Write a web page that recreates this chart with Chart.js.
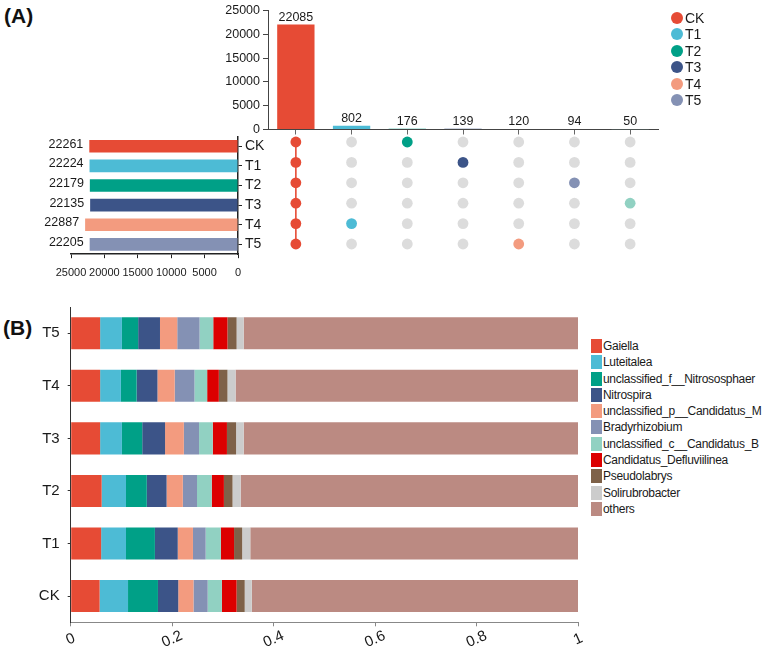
<!DOCTYPE html>
<html>
<head>
<meta charset="utf-8">
<script src="https://cdn.jsdelivr.net/npm/chart.js@4.4.1/dist/chart.umd.min.js"></script>
<style>
  body{margin:0;background:#fff;width:767px;height:651px;position:relative;overflow:hidden;font-family:"Liberation Sans",Arial,sans-serif;color:#1a1a1a;}
  canvas{position:absolute;}
  .tag{position:absolute;font-weight:bold;font-size:21px;color:#111;}
  .legA,.legB{position:absolute;}
  .legA{font-size:14px;line-height:16.4px;}
  .legA div{position:relative;height:16.4px;white-space:nowrap;}
  .legA i{position:absolute;left:-14px;top:2px;width:12px;height:12px;border-radius:50%;}
  .legB{font-size:12px;line-height:16.3px;letter-spacing:-0.3px;}
  .legB div{position:relative;height:16.3px;white-space:nowrap;}
  .legB i{position:absolute;left:-12px;top:1px;width:11px;height:14px;}
</style>
</head>
<body>
<div class="tag" style="left:4px;top:4px">(A)</div>
<div class="tag" style="left:3px;top:316px">(B)</div>
<canvas id="cTop" width="480" height="140" style="left:200px;top:0px"></canvas>
<canvas id="cLeft" width="280" height="155" style="left:0px;top:125px"></canvas>
<canvas id="cDots" width="410" height="135" style="left:260px;top:125px"></canvas>
<canvas id="cStack" width="590" height="361" style="left:0px;top:290px"></canvas>
<div class="legA" id="legA" style="left:685px;top:10px"></div>
<div class="legB" id="legB" style="left:603px;top:338px"></div>
<script>
// ---- (A) upset data ----
const setNames  = ['CK','T1','T2','T3','T4','T5'];
const setSizes  = [22261,22224,22179,22135,22887,22205];
const setColors = ['#E64B35','#4DBBD5','#00A087','#3C5488','#F39B7F','#8491B4'];
const interSizes   = [22085,802,176,139,120,94,50];
const interMembers = [[0,1,2,3,4,5],[4],[0],[1],[5],[2],[3]]; // row index in setNames
const interColors  = ['#E64B35','#4DBBD5','#00A087','#3C5488','#F39B7F','#8491B4','#91D1C2'];

// ---- (B) relative abundance, rows top->bottom ----
const samples = ['T5','T4','T3','T2','T1','CK'];
const genera  = ['Gaiella','Luteitalea','unclassified_f__Nitrososphaer','Nitrospira','unclassified_p__Candidatus_M',
                 'Bradyrhizobium','unclassified_c__Candidatus_B','Candidatus_Defluviilinea','Pseudolabrys','Solirubrobacter','others'];
const genusColors = ['#E64B35','#4DBBD5','#00A087','#3C5488','#F39B7F','#8491B4','#91D1C2','#DC0000','#7E6148','#CCCCCC','#BB8A82'];
const gaiella        = [0.058,0.058,0.058,0.061,0.060,0.057];
const luteitalea     = [0.043,0.041,0.043,0.048,0.049,0.056];
const nitrososphaer  = [0.032,0.031,0.040,0.041,0.057,0.059];
const nitrospira     = [0.043,0.041,0.045,0.039,0.045,0.040];
const candidatusM    = [0.034,0.034,0.037,0.032,0.030,0.030];
const bradyrhizobium = [0.044,0.039,0.030,0.028,0.025,0.028];
const candidatusB    = [0.027,0.025,0.027,0.029,0.030,0.028];
const defluviilinea  = [0.028,0.023,0.028,0.024,0.026,0.029];
const pseudolabrys   = [0.018,0.017,0.018,0.017,0.016,0.016];
const solirubrobacter= [0.014,0.016,0.015,0.016,0.016,0.014];
const others         = [0.659,0.675,0.659,0.665,0.646,0.643];
const bTickLabels = ['0','0.2','0.4','0.6','0.8','1'];

const FONT = '"Liberation Sans", Arial, sans-serif';
const INK = '#1a1a1a', AXIS = '#444';
const plain = v => String(v);   // no thousands separators

// value labels next to bars
const barValues = {
  id:'barValues',
  afterDatasetsDraw(chart, args, opts){
    const ctx = chart.ctx, meta = chart.getDatasetMeta(0), vals = chart.data.datasets[0].data;
    ctx.save();
    ctx.font = '12.5px ' + FONT; ctx.fillStyle = INK;
    meta.data.forEach((bar,i)=>{
      if (opts.side === 'left'){ ctx.textAlign='right'; ctx.textBaseline='middle'; ctx.fillText(String(vals[i]), bar.x-6, bar.y-2); }
      else { ctx.textAlign='center'; ctx.textBaseline='bottom'; ctx.fillText(String(vals[i]), bar.x, bar.y-1); }
    });
    ctx.restore();
  }
};

// top: intersection sizes
new Chart(document.getElementById('cTop'), {
  type:'bar',
  data:{ labels: interSizes.map((_,i)=>'I'+(i+1)),
    datasets:[{ data: interSizes, backgroundColor: interColors, barPercentage:0.67, categoryPercentage:1 }] },
  options:{ responsive:false, animation:false,
    layout:{ padding:{ left:0, right:22, top:9, bottom:0 } },
    plugins:{ legend:{display:false}, tooltip:{enabled:false}, barValues:{side:'top'} },
    scales:{
      x:{ ticks:{display:false}, grid:{drawOnChartArea:false, offset:false, tickLength:5, color:'#666'}, border:{color:AXIS},
          afterFit(s){ s.height = 8; } },
      y:{ min:0, max:25000, ticks:{stepSize:5000, callback:plain, font:{size:12.5, family:FONT}, color:INK, padding:3},
          grid:{drawOnChartArea:false, tickLength:5, color:AXIS}, border:{color:AXIS},
          afterFit(s){ s.width = 68; } }
    }
  },
  plugins:[barValues]
});

// left: set sizes
new Chart(document.getElementById('cLeft'), {
  type:'bar',
  data:{ labels: setNames, datasets:[{ data: setSizes, backgroundColor: setColors, barPercentage:0.64, categoryPercentage:1 }] },
  options:{ indexAxis:'y', responsive:false, animation:false,
    layout:{ padding:{ left:71, right:0, top:6.8, bottom:0 } },
    plugins:{ legend:{display:false}, tooltip:{enabled:false}, barValues:{side:'left'} },
    scales:{
      x:{ reverse:true, min:0, max:25000,
          ticks:{stepSize:5000, callback:plain, autoSkip:false, maxRotation:0, font:{size:11, family:FONT}, color:INK, padding:8},
          grid:{drawOnChartArea:false, tickLength:4, color:'#222'}, border:{color:'#222', width:1.5},
          afterFit(s){ s.height = 25.8; } },
      y:{ position:'right', ticks:{autoSkip:false, font:{size:14, family:FONT}, color:INK, padding:3},
          grid:{drawOnChartArea:false, offset:false, tickLength:4, color:'#222'}, border:{color:'#222', width:1.5},
          afterFit(s){ s.width = 42; } }
    }
  },
  plugins:[barValues]
});

// dot matrix
const onPts = [], onCols = [], offPts = [];
interMembers.forEach((rows,c)=>{
  setNames.forEach((_,r)=>{
    if (rows.includes(r)) { onPts.push({x:c, y:r}); onCols.push(interColors[c]); }
    else offPts.push({x:c, y:r});
  });
});
const linkPts = interMembers[0].map(r=>({x:0, y:r}));
new Chart(document.getElementById('cDots'), {
  type:'scatter',
  data:{ datasets:[
    { data:onPts, backgroundColor:onCols, pointRadius:5.4, borderWidth:0 },
    { data:offPts, backgroundColor:'#DCDCDC', pointRadius:5.4, borderWidth:0 },
    { type:'line', data:linkPts, borderColor:'#E64B35', borderWidth:1.6, pointRadius:0 }
  ]},
  options:{ responsive:false, animation:false,
    layout:{ padding:{ left:8, right:12, top:6.8, bottom:5.8 } },
    plugins:{ legend:{display:false}, tooltip:{enabled:false} },
    scales:{
      x:{ type:'linear', min:-0.5, max:6.5, display:false },
      y:{ type:'linear', min:-0.5, max:5.5, reverse:true, display:false }
    }
  }
});

// legends
document.getElementById('legA').innerHTML = setNames.map((n,i)=>`<div><i style="background:${setColors[i]}"></i>${n}</div>`).join('');
document.getElementById('legB').innerHTML = genera.map((n,i)=>`<div><i style="background:${genusColors[i]}"></i>${n}</div>`).join('');

// (B) stacked bars
const series = [gaiella, luteitalea, nitrososphaer, nitrospira, candidatusM, bradyrhizobium, candidatusB, defluviilinea, pseudolabrys, solirubrobacter, others];
const slantTicks = {
  id:'slantTicks',
  afterDraw(chart){
    const s = chart.scales.x, ctx = chart.ctx;
    ctx.save();
    ctx.font = '15px ' + FONT; ctx.fillStyle = INK; ctx.textAlign='center'; ctx.textBaseline='middle';
    s.ticks.forEach((t,i)=>{
      ctx.save();
      ctx.translate(s.getPixelForTick(i), s.top + 17);
      ctx.rotate(-0.42);
      ctx.fillText(bTickLabels[i], 0, 0);
      ctx.restore();
    });
    ctx.restore();
  }
};
new Chart(document.getElementById('cStack'), {
  type:'bar',
  data:{ labels: samples,
    datasets: series.map((d,i)=>({ label:genera[i], data:d, backgroundColor:genusColors[i], barPercentage:0.61, categoryPercentage:1 })) },
  options:{ indexAxis:'y', responsive:false, animation:false,
    layout:{ padding:{ left:0, right:12, top:16.7, bottom:0 } },
    plugins:{ legend:{display:false}, tooltip:{enabled:false} },
    scales:{
      x:{ stacked:true, min:0, max:1, ticks:{display:false, stepSize:0.2},
          grid:{drawOnChartArea:false, tickLength:4, color:'#888'}, border:{color:'#888'},
          afterFit(s){ s.height = 28.7; } },
      y:{ stacked:true, ticks:{font:{size:15, family:FONT}, color:INK, padding:8},
          grid:{drawOnChartArea:false, offset:false, tickLength:3, color:'#333'}, border:{color:'#333'},
          afterFit(s){ s.width = 70.7; } }
    }
  },
  plugins:[slantTicks]
});
</script>
</body>
</html>
